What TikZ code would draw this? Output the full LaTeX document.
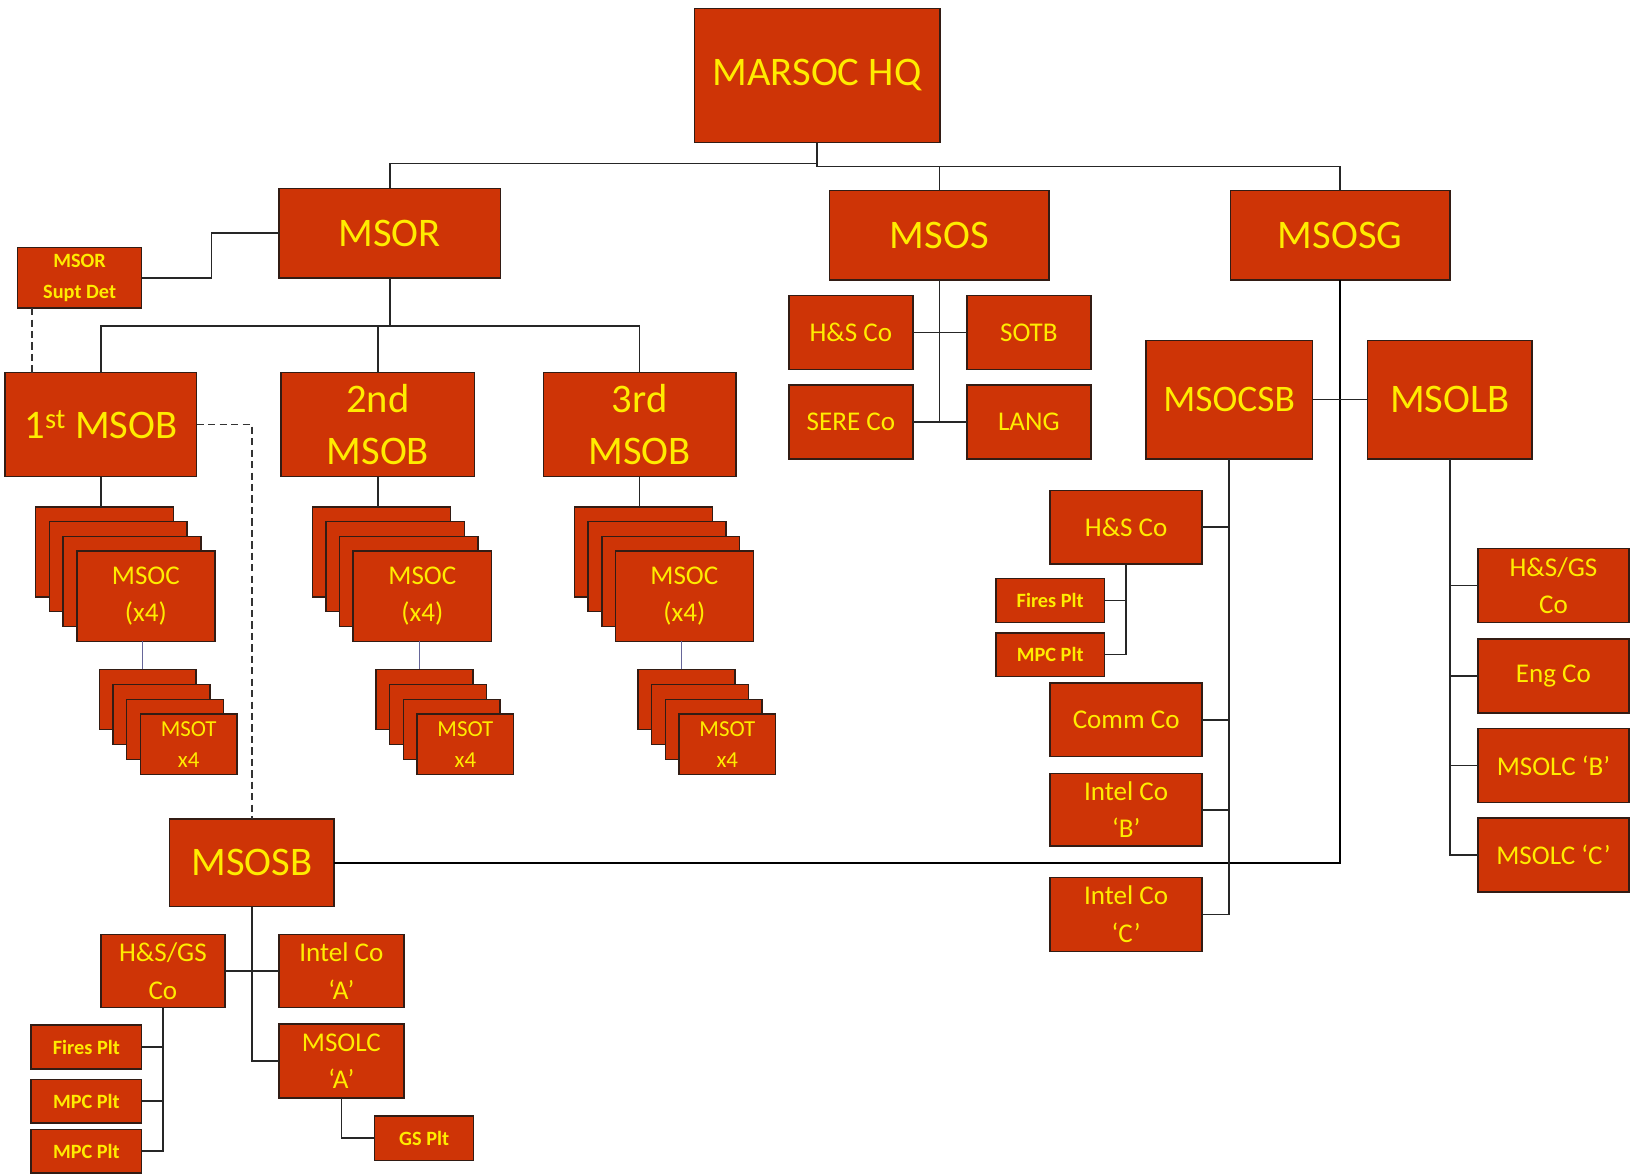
\documentclass[tikz,border=0pt]{standalone}
\usepackage{fontspec}
\setmainfont{Carlito}
\definecolor{boxfill}{RGB}{206,52,6}
\definecolor{boxtxt}{RGB}{255,236,0}
\definecolor{boxline}{RGB}{50,28,20}
\tikzset{
 box/.style={draw=boxline,line width=1.4pt,fill=boxfill,text=boxtxt,inner sep=0pt,outer sep=0pt,align=center},
 big/.style={font=\fontsize{39}{50}\selectfont},
 bigc/.style={font=\fontsize{36}{46}\selectfont},
 med/.style={font=\fontsize{26}{36}\selectfont},
 tot/.style={font=\fontsize{22}{30}\selectfont},
 sml/.style={font=\bfseries\fontsize{19.5}{29}\selectfont},
 conn/.style={draw=black!85,line width=1.5pt},
 thinc/.style={draw=gray!80!blue,line width=1pt},
 thickc/.style={draw=black,line width=2.6pt},
 dsh/.style={draw=black!80,line width=1.6pt,dash pattern=on 7pt off 4pt},
}
\newcommand\bx[7][]{%
  \pgfmathsetmacro\bxw{(#5)-(#3)}\pgfmathsetmacro\bxh{(#6)-(#4)}%
  \node[box,#1,minimum width=\bxw pt,minimum height=\bxh pt] (#2) at ({((#3)+(#5))/2},{((#4)+(#6))/2}) {#7};}
\newcommand\stk[9][]{%
  \bx{#2a}{#3}{#4}{(#3)+(#5)}{(#4)+(#6)}{}%
  \bx{#2b}{(#3)+(#7)}{(#4)+(#8)}{(#3)+(#5)+(#7)}{(#4)+(#6)+(#8)}{}%
  \bx{#2c}{(#3)+2*(#7)}{(#4)+2*(#8)}{(#3)+(#5)+2*(#7)}{(#4)+(#6)+2*(#8)}{}%
  \bx[#1]{#2}{(#3)+3*(#7)}{(#4)+3*(#8)}{(#3)+(#5)+3*(#7)}{(#4)+(#6)+3*(#8)}{#9}}
\begin{document}
\begin{tikzpicture}[x=1pt,y=-1pt]
\useasboundingbox[fill=white] (0,0) rectangle (1568,1128);
% top level
\bx[big]{hq}{667}{8}{903}{137}{MARSOC HQ}
\bx[big]{msor}{268}{181}{481}{267}{MSOR}
\bx[big]{msos}{797}{183}{1008}{269}{MSOS}
\bx[big]{msosg}{1182}{183}{1393}{269}{MSOSG}
\bx[sml]{supt}{17}{238}{136}{296}{MSOR\\Supt Det}
% MSOBs
\bx[big]{msob1}{5}{358}{189}{458}{1\textsuperscript{st} MSOB}
\bx[big]{msob2}{270}{358}{456}{458}{2nd\\MSOB}
\bx[big]{msob3}{522}{358}{707}{458}{3rd\\MSOB}
% MSOC stacks
\stk[med]{msocA}{34}{487}{132.5}{86.5}{13.3}{14.2}{MSOC\\(x4)}
\stk[med]{msocB}{300}{487}{133}{86.5}{13.1}{14.2}{MSOC\\(x4)}
\stk[med]{msocC}{552}{487}{132.5}{86.5}{13.1}{14.2}{MSOC\\(x4)}
% MSOT stacks
\stk[tot]{msotA}{95.5}{643}{93}{58}{13.1}{14.4}{MSOT\\x4}
\stk[tot]{msotB}{361.3}{643}{93}{58}{13.1}{14.4}{MSOT\\x4}
\stk[tot]{msotC}{613}{643}{93}{58}{13.1}{14.4}{MSOT\\x4}
% MSOSB
\bx[big]{msosb}{163}{787}{321}{871}{MSOSB}
\bx[med]{hsgsA}{97}{898}{216}{968}{H\&S/GS\\Co}
\bx[med]{intelA}{268}{898}{388}{968}{Intel Co\\`A'}
\bx[med]{msolcA}{268}{984}{388}{1055}{MSOLC\\`A'}
\bx[sml]{firesA}{30}{985}{136}{1027}{Fires Plt}
\bx[sml]{mpcA}{30}{1037}{136}{1079}{MPC Plt}
\bx[sml]{mpcB}{30}{1085}{136}{1127}{MPC Plt}
\bx[sml]{gsplt}{360}{1072}{455}{1115}{GS Plt}
% MSOS children
\bx[med]{hsS}{758}{284}{877}{355}{H\&S Co}
\bx[med]{sotb}{929}{284}{1048}{355}{SOTB}
\bx[med]{sere}{758}{370}{877}{441}{SERE Co}
\bx[med]{lang}{929}{370}{1048}{441}{LANG}
% MSOSG children
\bx[bigc]{msocsb}{1101}{327}{1261}{441}{MSOCSB}
\bx[big]{msolb}{1314}{327}{1472}{441}{MSOLB}
\bx[med]{hsC}{1009}{471}{1155}{542}{H\&S Co}
\bx[sml]{firesC}{957}{556}{1061}{598}{Fires Plt}
\bx[sml]{mpcC}{957}{608}{1061}{650}{MPC Plt}
\bx[med]{comm}{1009}{656}{1155}{727}{Comm Co}
\bx[med]{intelB}{1009}{743}{1155}{813}{Intel Co\\`B'}
\bx[med]{intelC}{1009}{843}{1155}{914}{Intel Co\\`C'}
\bx[med]{hsgsL}{1420}{527}{1565}{598}{H\&S/GS\\Co}
\bx[med]{eng}{1420}{614}{1565}{685}{Eng Co}
\bx[med]{msolcB}{1420}{700}{1565}{771}{MSOLC `B'}
\bx[med]{msolcC}{1420}{786}{1565}{857}{MSOLC `C'}
% connectors: top
\draw[conn] (msor.north) -- ++(0,-24) -| (hq.south);
\draw[conn] (hq.south) -- ++(0,23) -| (msosg.north);
\draw[conn] (msos.north) -- ++(0,-23);
\draw[conn] (msor.west) -- ++(-65,0) |- (supt.east);
\draw[dsh] ([xshift=14pt]supt.south west) -- ([xshift=14pt]supt.south west |- msob1.north);
\draw[dsh] (msob1.east) -| (msosb.north);
\draw[conn] (msor.south) -- ++(0,46) coordinate (rb);
\draw[conn] (msob1.north) |- (rb) -| (msob3.north);
\draw[conn] (msob2.north) -- (msob2.north |- rb);
\draw[conn] (msob1.south) -- (msob1.south |- msocAa.north);
\draw[conn] (msob2.south) -- (msob2.south |- msocBa.north);
\draw[conn] (msob3.south) -- (msob3.south |- msocCa.north);
\draw[thinc] ([xshift=-3pt]msocA.south) -- ([xshift=-3pt]msocA.south |- msotAa.north);
\draw[thinc] ([xshift=-3pt]msocB.south) -- ([xshift=-3pt]msocB.south |- msotBa.north);
\draw[thinc] ([xshift=-3pt]msocC.south) -- ([xshift=-3pt]msocC.south |- msotCa.north);
% MSOSB
\draw[thickc] (msosb.east) -| (msosg.south);
\draw[conn] (msosb.south) |- (msolcA.west);
\draw[conn] (hsgsA.east) -- (intelA.west);
\draw[conn] (hsgsA.south) |- (mpcB.east);
\draw[conn] (firesA.east) -- (firesA.east -| hsgsA.south);
\draw[conn] (mpcA.east) -- (mpcA.east -| hsgsA.south);
\draw[conn] (msolcA.south) |- (gsplt.west);
% MSOS
\draw[conn] (msos.south) -- (msos.south |- lang.west);
\draw[conn] (hsS.east) -- (sotb.west);
\draw[conn] (sere.east) -- (lang.west);
% MSOCSB / MSOLB
\draw[conn] (msocsb.east) -- (msolb.west);
\draw[conn] (msocsb.south) |- (intelC.east);
\draw[conn] (hsC.east) -- (hsC.east -| msocsb.south);
\draw[conn] (comm.east) -- (comm.east -| msocsb.south);
\draw[conn] (intelB.east) -- (intelB.east -| msocsb.south);
\draw[conn] (hsC.south) |- (mpcC.east);
\draw[conn] (firesC.east) -- (firesC.east -| hsC.south);
\draw[conn] (msolb.south) |- (msolcC.west);
\draw[conn] (hsgsL.west) -- (hsgsL.west -| msolb.south);
\draw[conn] (eng.west) -- (eng.west -| msolb.south);
\draw[conn] (msolcB.west) -- (msolcB.west -| msolb.south);
\end{tikzpicture}
\end{document}
